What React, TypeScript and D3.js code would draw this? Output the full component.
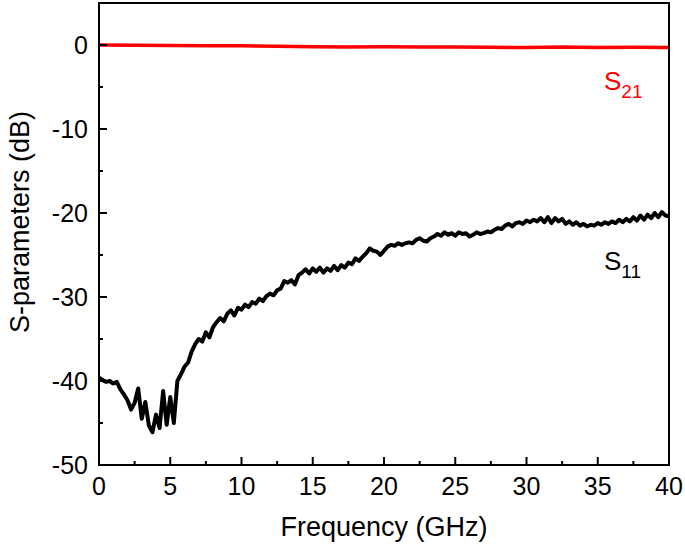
import React from "react";
import * as d3 from "d3";

const xTicks = [0, 5, 10, 15, 20, 25, 30, 35, 40];
const yTicks = [0, -10, -20, -30, -40, -50];

const s21Freq = [0, 2.5, 5, 7.5, 10, 12.5, 15, 17.5, 20, 22.5, 25, 27.5, 30, 32.5, 35, 37.5, 40];
const s21Values = [0, -0.02, -0.05, -0.08, -0.1, -0.15, -0.2, -0.25, -0.22, -0.25, -0.25, -0.27, -0.3, -0.25, -0.3, -0.28, -0.3];

const s11Step = 0.25;
const s11Values = [
  -39.6, -39.9, -40.1, -40.0, -40.3, -40.1, -41.0, -41.6, -42.3, -43.4,
  -42.6, -40.9, -44.5, -42.5, -45.3, -46.1, -44.0, -45.6, -41.2, -45.2,
  -41.9, -45.0, -40.0, -39.2, -38.3, -37.8, -36.5, -35.6, -35.0, -35.3,
  -34.2, -34.8, -33.6, -33.0, -32.5, -32.9, -32.0, -31.6, -32.2, -31.3,
  -31.5, -30.9, -31.2, -30.6, -30.8, -30.2, -30.5, -29.9, -29.6, -29.8,
  -29.2, -29.0, -28.1, -28.3, -28.0, -28.5, -27.4, -27.1, -26.7, -27.2,
  -26.6, -27.0, -26.5, -27.1, -26.6, -26.9, -26.3, -26.8, -26.2, -26.5,
  -25.9, -26.1, -25.4, -25.7, -25.2, -24.8, -24.2, -24.5, -24.6, -25.0,
  -24.5, -24.0, -23.8, -23.9, -23.6, -23.8, -23.6, -23.5, -23.6, -23.2,
  -23.0, -23.3, -23.4, -23.0, -22.8, -22.5, -22.7, -22.3, -22.6, -22.4,
  -22.7, -22.3, -22.5, -22.4, -22.8, -22.6, -22.3, -22.5, -22.4, -22.2,
  -22.3, -22.0, -21.8, -21.9, -21.5, -21.3, -21.6, -21.2, -21.1, -21.3,
  -20.9, -21.1, -20.8, -21.0, -20.6, -21.1, -20.5, -21.2, -20.6, -21.0,
  -20.7, -21.3, -21.0, -21.4, -21.1, -21.5, -21.3, -21.6, -21.4, -21.5,
  -21.2, -21.4, -21.1, -21.3, -21.0, -21.2, -20.8, -21.1, -20.7, -21.0,
  -20.5, -20.9, -20.3, -20.8, -20.2, -20.6, -20.0, -20.5, -19.9, -20.3,
  -20.4,
];

const W = 685;
const H = 549;
const FONT = "Liberation Sans, Arial, sans-serif";

export default function App() {
  const x = d3.scaleLinear().domain([0, 40]).range([99, 669]);
  const y = d3.scaleLinear().domain([-50, 5]).range([465, 3]);

  const s11 = s11Values.map((v, i) => [i * s11Step, v] as [number, number]);
  const s21 = s21Values.map((v, i) => [s21Freq[i], v] as [number, number]);
  const line = d3
    .line<[number, number]>()
    .x((d) => x(d[0]))
    .y((d) => y(d[1]))
    .curve(d3.curveLinear);

  const xMinor = d3.range(2.5, 40, 5);
  const yMinor = d3.range(-45, 5, 10);
  const [x0, x1] = x.range();
  const [yb, yt] = y.range();

  return (
    <svg width={W} height={H} style={{ position: "absolute", left: 0, top: 0, background: "#fff" }} fontFamily={FONT}>
      <rect x={0} y={0} width={W} height={H} fill="#fff" />
      {/* data */}
      <path d={line(s21) || ""} fill="none" stroke="#ff0000" strokeWidth={3.5} />
      <path d={line(s11) || ""} fill="none" stroke="#000" strokeWidth={4} strokeLinejoin="round" />
      {/* frame */}
      <rect x={x0} y={yt} width={x1 - x0} height={yb - yt} fill="none" stroke="#000" strokeWidth={2} />
      {/* ticks */}
      {xTicks.map((t) => (
        <g key={"xt" + t}>
          <line x1={x(t)} x2={x(t)} y1={yb} y2={yb - 8} stroke="#000" strokeWidth={2} />
          <text x={x(t)} y={495} textAnchor="middle" fontSize={25}>{t}</text>
        </g>
      ))}
      {xMinor.map((t) => (
        <line key={"xm" + t} x1={x(t)} x2={x(t)} y1={yb} y2={yb - 4} stroke="#000" strokeWidth={2} />
      ))}
      {yTicks.map((t) => (
        <g key={"yt" + t}>
          <line x1={x0} x2={x0 + 8} y1={y(t)} y2={y(t)} stroke="#000" strokeWidth={2} />
          <text x={88} y={y(t) + 9} textAnchor="end" fontSize={25}>{t}</text>
        </g>
      ))}
      {yMinor.map((t) => (
        <line key={"ym" + t} x1={x0} x2={x0 + 4} y1={y(t)} y2={y(t)} stroke="#000" strokeWidth={2} />
      ))}
      {/* titles */}
      <text x={(x0 + x1) / 2} y={536} textAnchor="middle" fontSize={27}>Frequency (GHz)</text>
      <text transform="translate(29,222) rotate(-90)" textAnchor="middle" fontSize={27}>S-parameters (dB)</text>
      {/* series labels */}
      <text x={604} y={90} fontSize={26} fill="#ff0000">
        S<tspan fontSize={19} dy={8}>21</tspan>
      </text>
      <text x={604} y={270} fontSize={26} fill="#000">
        S<tspan fontSize={19} dy={8}>11</tspan>
      </text>
    </svg>
  );
}
